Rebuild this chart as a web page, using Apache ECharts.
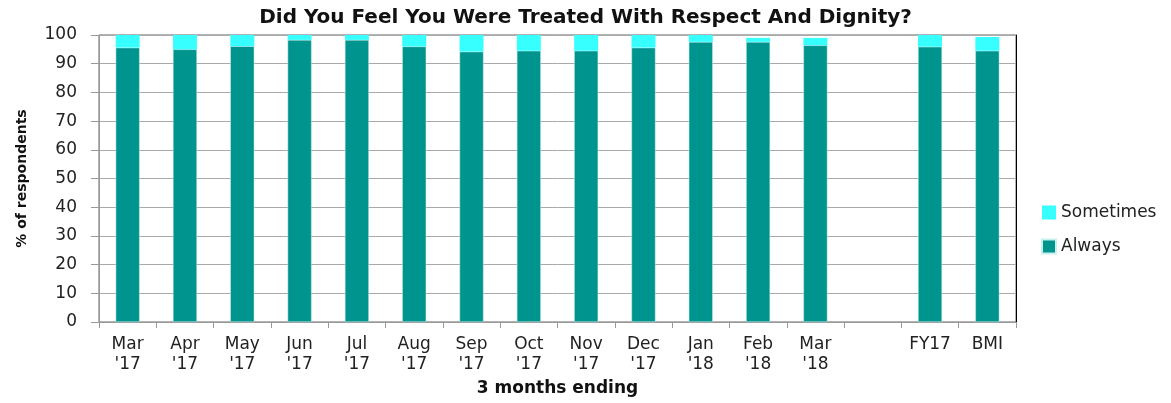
<!DOCTYPE html>
<html>
<head>
<meta charset="utf-8">
<script src="https://cdn.jsdelivr.net/npm/echarts@6/dist/echarts.min.js"></script>
<style>
  html, body { margin: 0; padding: 0; background: #fff; }
  #chart { width: 1171px; height: 403px; }
</style>
</head>
<body>
<div id="chart"></div>
<script>
// 数据
const categories = ["Mar\n'17", "Apr\n'17", "May\n'17", "Jun\n'17", "Jul\n'17", "Aug\n'17", "Sep\n'17",
  "Oct\n'17", "Nov\n'17", "Dec\n'17", "Jan\n'18", "Feb\n'18", "Mar\n'18", "", "FY17", "BMI"];
const always = [95.6, 95.0, 96.1, 98.3, 98.3, 96.0, 94.2, 94.5, 94.5, 95.6, 97.6, 97.6, 96.4, '-', 95.9, 94.5];
const sometimes = [4.4, 5.0, 3.9, 1.7, 1.7, 4.0, 5.8, 5.5, 5.5, 4.4, 2.4, 1.4, 2.6, '-', 4.1, 4.8];
const yTicks = [0, 10, 20, 30, 40, 50, 60, 70, 80, 90, 100];

const font = '"DejaVu Sans", sans-serif';
const chart = echarts.init(document.getElementById('chart'));

chart.setOption({
  animation: false,
  textStyle: { fontFamily: font },
  title: {
    text: 'Did You Feel You Were Treated With Respect And Dignity?',
    left: 'center',
    top: 3,
    textStyle: { fontSize: 20, fontWeight: 'bold', color: '#111', fontFamily: font }
  },
  legend: {
    data: ['Sometimes', 'Always'],
    orient: 'vertical',
    left: 1036,
    top: 199,
    icon: 'rect',
    itemWidth: 14,
    itemHeight: 14,
    itemGap: 17,
    textStyle: { fontSize: 17, color: '#222', fontFamily: font }
  },
  grid: {
    left: 99, right: 155, top: 35, bottom: 81,
    show: true, borderColor: '#666', borderWidth: 1
  },
  xAxis: {
    type: 'category',
    data: categories,
    name: '3 months ending',
    nameLocation: 'middle',
    nameGap: 51,
    nameTextStyle: { fontSize: 17, fontWeight: 'bold', color: '#111' },
    axisLine: { lineStyle: { color: '#999' } },
    axisTick: { show: true, length: 6, lineStyle: { color: '#999' } },
    axisLabel: { fontSize: 17, color: '#222', lineHeight: 20, margin: 13, interval: 0 }
  },
  yAxis: [{
    type: 'value',
    min: yTicks[0],
    max: yTicks[yTicks.length - 1],
    interval: 10,
    name: '% of respondents',
    nameLocation: 'middle',
    nameGap: 70,
    nameTextStyle: { fontSize: 14, fontWeight: 'bold', color: '#111' },
    axisLine: { show: true, lineStyle: { color: '#999' } },
    axisTick: { show: true, length: 8, lineStyle: { color: '#999' } },
    axisLabel: { fontSize: 17, color: '#222', margin: 22 },
    splitLine: { lineStyle: { color: '#aaa' } }
  }, {
    type: 'value',
    position: 'right',
    min: 0, max: 100,
    axisLine: { show: true, lineStyle: { color: '#000' } },
    axisTick: { show: false },
    axisLabel: { show: false },
    splitLine: { show: false }
  }],
  series: [{
    name: 'Always',
    type: 'bar',
    stack: 'total',
    barWidth: 24,
    data: always,
    itemStyle: { color: '#00948f', borderColor: '#c8f0ee', borderWidth: 0.5 }
  }, {
    name: 'Sometimes',
    type: 'bar',
    stack: 'total',
    barWidth: 24,
    data: sometimes,
    itemStyle: { color: '#38ffff' }
  }]
});
</script>
</body>
</html>
